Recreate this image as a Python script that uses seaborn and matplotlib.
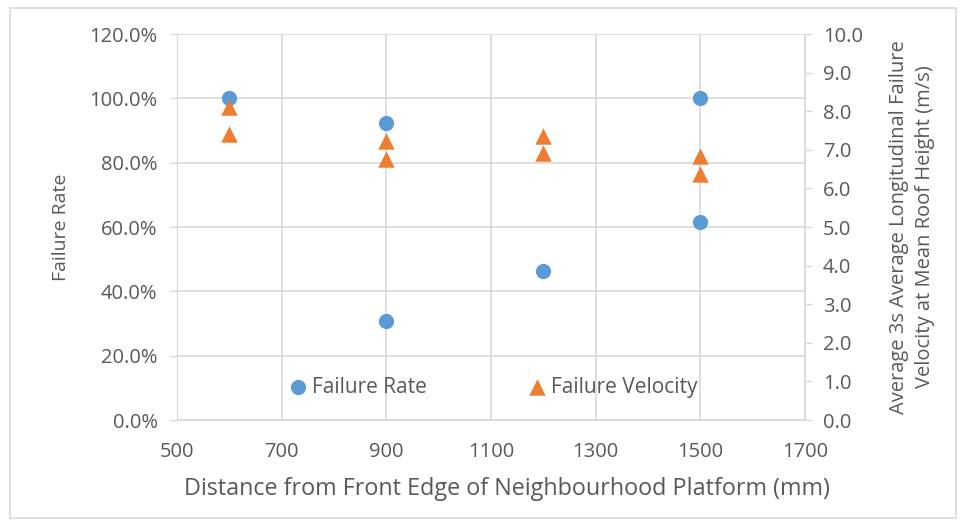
import numpy as np
import pandas as pd
import matplotlib
matplotlib.use("Agg")
import matplotlib.pyplot as plt
import seaborn as sns
from matplotlib.ticker import FuncFormatter, MultipleLocator
from matplotlib.patches import Rectangle

# data
rate_x = [600, 900, 900, 1200, 1500, 1500]
rate_y = [1.0, 0.923, 0.308, 0.462, 1.0, 0.615]
vel_x = [600, 600, 900, 900, 1200, 1200, 1500, 1500]
vel_y = [8.1, 7.4, 7.22, 6.76, 7.37, 6.91, 6.85, 6.38]
x_ticks = [500, 700, 900, 1100, 1300, 1500, 1700]

blue = "#5B9BD5"
orange = "#ED7D31"
grid_c = "#D9D9D9"
text_c = "#595959"

sns.set_style("white")
plt.rcParams["font.family"] = ["Open Sans", "DejaVu Sans"]

fig = plt.figure(figsize=(9.67, 5.25), dpi=100)
ax = fig.add_axes([0.183, 0.2, 0.6495, 0.735])
ax2 = ax.twinx()

rate_df = pd.DataFrame({"x": rate_x, "y": rate_y})
vel_df = pd.DataFrame({"x": vel_x, "y": vel_y})

sns.scatterplot(data=rate_df, x="x", y="y", ax=ax, color=blue, marker="o",
                s=120, edgecolor=blue, linewidth=0, label="Failure Rate", zorder=3)
sns.scatterplot(data=vel_df, x="x", y="y", ax=ax2, color=orange, marker="^",
                s=140, edgecolor=orange, linewidth=0, label="Failure Velocity", zorder=3)

ax.set_xlim(500, 1700)
ax.set_ylim(0, 1.2)
ax2.set_ylim(0, 10)
ax.set_xticks(x_ticks)
ax.yaxis.set_major_locator(MultipleLocator(0.2))
ax2.yaxis.set_major_locator(MultipleLocator(1))
ax.yaxis.set_major_formatter(FuncFormatter(lambda v, p: f"{v*100:.1f}%"))
ax2.yaxis.set_major_formatter(FuncFormatter(lambda v, p: f"{v:.1f}"))

ax.grid(True, color=grid_c, linewidth=1.2)
ax.set_axisbelow(True)
ax2.grid(False)

for a in (ax, ax2):
    for s in a.spines.values():
        s.set_visible(False)
ax.spines["left"].set_visible(True)
ax.spines["left"].set_color(grid_c)
ax.spines["bottom"].set_visible(True)
ax.spines["bottom"].set_color(grid_c)
ax2.spines["right"].set_visible(True)
ax2.spines["right"].set_color(grid_c)

ax.tick_params(axis="both", labelsize=14.5, labelcolor=text_c, color=grid_c,
               length=5, direction="out", width=1)
ax2.tick_params(axis="y", labelsize=14.5, labelcolor=text_c, color=grid_c,
                length=5, direction="out", width=1)
ax.tick_params(axis="y", pad=9)
ax2.tick_params(axis="y", pad=8)
ax.tick_params(axis="x", pad=11)

ax.set_xlabel("Distance from Front Edge of Neighbourhood Platform (mm)",
              fontsize=16.8, color=text_c)
ax.xaxis.set_label_coords(0.525, -0.148)
ax.set_ylabel("Failure Rate", fontsize=14, color=text_c, labelpad=14)
ax2.set_ylabel("Average 3s Average Longitudinal Failure\nVelocity at Mean Roof Height (m/s)",
               fontsize=14.5, color=text_c, labelpad=19, linespacing=1.35)

h1, l1 = ax.get_legend_handles_labels()
h2, l2 = ax2.get_legend_handles_labels()
if ax2.get_legend():
    ax2.get_legend().remove()
leg = ax.legend(h1 + h2, l1 + l2, ncol=2, frameon=False, loc="center",
                bbox_to_anchor=(0.503, 0.085), columnspacing=4.8,
                handlelength=1.0, handletextpad=0.17, fontsize=15,
                labelcolor=text_c)

fig.patches.append(Rectangle((0.010, 0.013), 0.979, 0.972, transform=fig.transFigure,
                             fill=False, edgecolor=grid_c, linewidth=1.2))

fig.savefig("out.png", dpi=100, facecolor="white")
